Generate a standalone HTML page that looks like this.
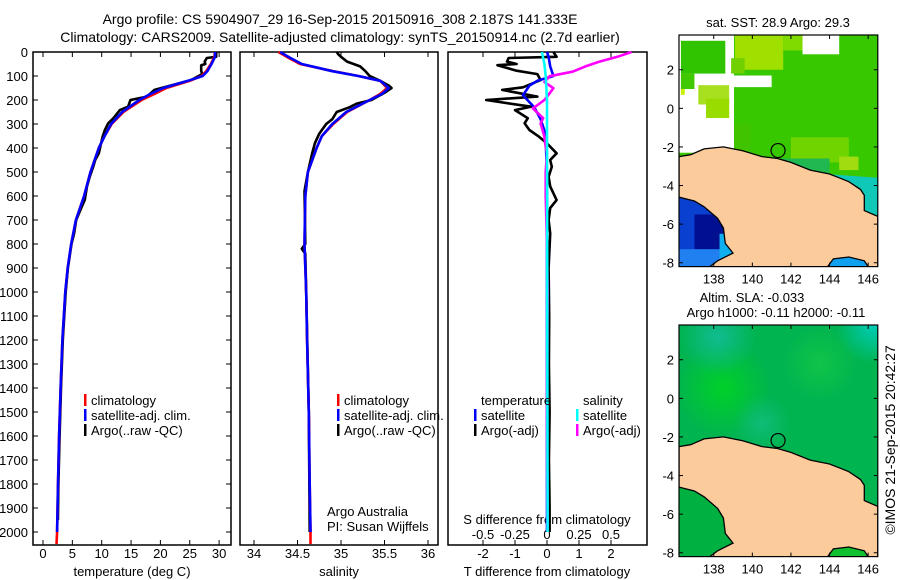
<!DOCTYPE html>
<html><head><meta charset="utf-8"><style>
body{margin:0;background:#fff;}
svg{display:block;font-family:"Liberation Sans",sans-serif;}
</style></head><body>
<svg id="fig" width="900" height="580" viewBox="0 0 900 580" xmlns="http://www.w3.org/2000/svg">
<rect width="900" height="580" fill="#fff"/>
<g font-size="14" text-anchor="middle" fill="#000">
<text x="340" y="24">Argo profile: CS 5904907_29 16-Sep-2015 20150916_308 2.187S 141.333E</text>
<text x="340" y="42">Climatology: CARS2009. Satellite-adjusted climatology: synTS_20150914.nc (2.7d earlier)</text>
</g>
<g id="panels"></g>
<g id="maps"></g>
<text x="0" y="0" font-size="14" text-anchor="middle" transform="translate(895,440) rotate(-90)">©IMOS 21-Sep-2015 20:42:27</text>
</svg>
<script>
// ---- data ----
const depthTicks=[0,100,200,300,400,500,600,700,800,900,1000,1100,1200,1300,1400,1500,1600,1700,1800,1900,2000];
const tempTicks=[0,5,10,15,20,25,30];
const salTicks=[34,34.5,35,35.5,36];
const salTickLabels=["34","34.5","35","35.5","36"];
const tdiffTicks=[-2,-1,0,1,2];
const sdiffTicks=[-0.5,-0.25,0,0.25,0.5];
const sdiffTickLabels=["-0.5","-0.25","0","0.25","0.5"];

const tempDepth=[0,20,50,80,100,120,150,175,200,250,300,350,400,500,600,700,800,900,1000,1200,1400,1600,1800,2000,2050];
const tempClim=[29.3,29.2,28.6,27.8,27.0,25.0,21.0,19.0,16.8,13.7,11.7,10.5,9.5,8.1,7.0,5.6,4.8,4.2,3.8,3.3,3.0,2.75,2.55,2.4,2.3];
const tempSatDepth=[0,20,50,80,100,120,150,175,200,250,300,350,400,500,600,700,800,900,1000,1200,1400,1600,1800,2000];
const tempSat=[29.3,29.3,28.7,28.0,27.2,24.7,20.5,18.3,16.4,13.5,11.6,10.5,9.5,8.1,7.0,5.6,4.8,4.2,3.8,3.3,3.0,2.75,2.55,2.4];
const tempArgoDepth=[0,20,25,40,50,55,78,92,117,147,158,186,200,228,242,276,297,325,353,381,422,450,478,520,560,617,650,700,756,800,900,1000,1200,1400,1600,1800,1950];
const tempArgo=[29.5,29.5,27.9,27.55,27.65,26.95,26.95,27.1,25.2,20.65,19.0,17.7,14.9,14.5,13.1,12.0,11.1,10.55,10.15,9.9,9.5,8.9,8.55,7.95,7.5,7.1,6.5,5.65,5.3,4.85,4.25,3.87,3.37,3.07,2.82,2.62,2.53];

const salDepth=[0,25,50,80,100,120,150,175,200,250,300,350,400,500,600,800,1000,1200,1500,1800,2000,2050];
const salClim=[34.28,34.40,34.53,34.91,35.20,35.45,35.53,35.45,35.33,35.07,34.91,34.78,34.72,34.62,34.59,34.58,34.60,34.61,34.63,34.64,34.65,34.65];
const salSatDepth=[0,25,50,80,100,120,150,175,200,250,300,350,400,500,600,800,1000,1200,1500,1800,2000];
const salSat=[34.30,34.42,34.55,34.90,35.20,35.45,35.55,35.47,35.33,35.06,34.90,34.78,34.72,34.62,34.59,34.58,34.60,34.61,34.63,34.64,34.65];
const salArgoDepth=[0,10,20,40,60,80,100,120,140,150,170,200,215,230,250,280,300,340,380,420,500,580,800,820,840,1000,1500,2000];
const salArgo=[34.95,34.97,35.00,35.07,35.22,35.28,35.33,35.45,35.55,35.58,35.50,35.35,35.18,35.10,34.95,34.90,34.83,34.75,34.70,34.67,34.62,34.58,34.59,34.55,34.59,34.60,34.63,34.64];

const tdArgoDepth=[0,20,25,40,50,55,78,92,117,147,158,186,200,228,242,276,297,325,353,381,422,450,478,520,560,617,650,700,756,900,1100,1300,1500,1700,1900,2000];
const tdArgo=[0.2,0.3,-1.2,-1.25,-0.95,-1.55,-0.95,-0.3,-0.2,-0.75,-1.4,-0.3,-1.9,-0.5,-1.0,-0.6,-0.7,-0.55,-0.25,0,0.3,0.1,0.15,0.05,0.1,0.3,0.1,0.05,0.1,0.05,0.07,0.06,0.08,0.06,0.08,0.08];
const tdSatDepth=[0,20,60,100,120,140,180,230,280,340,500,1000,1500,2000];
const tdSat=[0,0.05,0.1,0.2,-0.3,-0.55,-0.75,-0.4,-0.2,-0.05,0,0,0,0];
const sdSatDepth=[0,50,100,200,300,2000];
const sdSat=[-0.04,-0.02,-0.01,0,0,0.005];
const sdArgoDepth=[0,20,40,60,82,101,125,151,172,200,235,276,297,353,395,422,500,600,800,1000,1500,2000];
const sdArgo=[0.66,0.55,0.41,0.3,0.2,0.02,-0.02,0.05,0.02,-0.02,-0.11,-0.03,-0.05,-0.02,-0.01,0,-0.01,-0.01,0,0.005,0,0.005];

// ---- scales ----
const TOP=52, BOT=545;
const yD=d=>TOP+d*0.24;
const xT=v=>43+v*5.87;
const xS=v=>254+(v-34)*87;
const xTD=v=>547+v*32;
const xSD=v=>547+v*128;
const NS="http://www.w3.org/2000/svg";
function mk(tag,attrs,parent){const e=document.createElementNS(NS,tag);for(const k in attrs)e.setAttribute(k,attrs[k]);parent.appendChild(e);return e;}
const P=document.getElementById('panels');

function line(xs,ds,xf,color,name,w){
  const pts=xs.map((v,i)=>xf(v).toFixed(1)+','+yD(ds[i]).toFixed(1)).join(' ');
  const e=mk('polyline',{points:pts,fill:'none',stroke:color,'stroke-width':w||2.6,'stroke-linejoin':'round'},P);
  
  
}
function text(x,y,s,anchor,name,size){
  const t=mk('text',{x:x,y:y,'font-size':size||13,'text-anchor':anchor||'start'},P);t.textContent=s;
  
  
  return t;
}
const panels=[[33,231],[240,438],[448,647]];
panels.forEach((p,i)=>{
  const r=mk('rect',{x:p[0],y:TOP,width:p[1]-p[0],height:BOT-TOP,fill:'none',stroke:'#000','stroke-width':1.5},P);
  
  
});
depthTicks.forEach(d=>{
  const y=yD(d);
  mk('line',{x1:33,x2:38,y1:y,y2:y,stroke:'#000'},P);
  mk('line',{x1:226,x2:231,y1:y,y2:y,stroke:'#000'},P);
  text(28,y+5,String(d),'end','depth-tick-label',13);
});
function xticks(vals,labels,xf,name){vals.forEach((v,i)=>{const x=xf(v);
  mk('line',{x1:x,x2:x,y1:BOT,y2:BOT-5,stroke:'#000'},P);
  mk('line',{x1:x,x2:x,y1:TOP,y2:TOP+5,stroke:'#000'},P);
  text(x,558,labels[i],'middle',name,13);});}
xticks(tempTicks,tempTicks.map(String),xT,'temp-tick-label');
xticks(salTicks,salTickLabels,xS,'sal-tick-label');
xticks(tdiffTicks,tdiffTicks.map(String),xTD,'tdiff-tick-label');
sdiffTicks.forEach((v,i)=>text(xSD(v),539,sdiffTickLabels[i],'middle','sdiff-tick-label',13));
text(132,576,'temperature (deg C)','middle','x-axis-title-temperature',13);
text(339,576,'salinity','middle','x-axis-title-salinity',13);
text(547,576,'T difference from climatology','middle','x-axis-title-tdiff',13);
text(547,524,'S difference from climatology','middle','x-axis-title-sdiff',13);
text(327,516,'Argo Australia','start','credit-argo-australia',13);
text(327,531,'PI: Susan Wijffels','start','credit-pi',13);

line(tempArgo,tempArgoDepth,xT,'#000','temp-argo-line');
line(tempClim,tempDepth,xT,'#f00','temp-clim-line');
line(tempSat,tempSatDepth,xT,'#00f','temp-sat-line');
line(salArgo,salArgoDepth,xS,'#000','sal-argo-line');
line(salClim,salDepth,xS,'#f00','sal-clim-line');
line(salSat,salSatDepth,xS,'#00f','sal-sat-line');
line(tdArgo,tdArgoDepth,xTD,'#000','tdiff-argo-line');
line(tdSat,tdSatDepth,xTD,'#00f','tdiff-sat-line');
line(sdArgo,sdArgoDepth,xSD,'#f0f','sdiff-argo-line');
line(sdSat,sdSatDepth,xSD,'#0ff','sdiff-sat-line');

function leg(x,y,color,label,name){
  const m=mk('rect',{x:x,y:y-11,width:2.5,height:12,fill:color},P);
  
  
  text(x+7,y,label,'start',name,13);
}
[[84],[337]].forEach((p,i)=>{
  leg(p[0],405,'#f00','climatology','legend-climatology-'+(i+1));
  leg(p[0],420,'#00f','satellite-adj. clim.','legend-satellite-'+(i+1));
  leg(p[0],435,'#000','Argo(..raw -QC)','legend-argo-'+(i+1));
});
text(481,405,'temperature','start','legend-temperature-header',13);
leg(474,420,'#00f','satellite','legend-t-satellite');
leg(474,435,'#000','Argo(-adj)','legend-t-argo');
text(583,405,'salinity','start','legend-salinity-header',13);
leg(576,420,'#0ff','satellite','legend-s-satellite');
leg(576,435,'#f0f','Argo(-adj)','legend-s-argo');
</script>
<script>
// ---- maps ----
const M=document.getElementById('maps');
const lonTicks=[138,140,142,144,146];
const latTicks=[2,0,-2,-4,-6,-8];
const LON0=136.2,LON1=146.5,LAT0=3.8,LAT1=-8.2,K=19.3;
const landN=[[136.2,-2.5],[136.8,-2.4],[137.5,-2.1],[138.5,-2.0],[139.5,-2.2],[140.5,-2.5],[141.3,-2.6],[142,-2.8],[143,-3.2],[144,-3.4],[144.5,-3.6],[145,-3.8],[145.6,-4.2],[145.8,-4.5],[145.8,-5.3],[146.5,-5.6],[146.5,-8.2],[146,-8.2],[145.8,-7.9],[145,-7.7],[144.2,-7.8],[143.9,-8.2],[137.8,-8.2],[138.2,-7.9],[139,-7.5],[138.6,-7.0],[138.5,-6.2],[138.2,-5.7],[137.5,-5.1],[137,-4.8],[136.2,-4.6]];
function mkm(tag,attrs,parent){const e=document.createElementNS("http://www.w3.org/2000/svg",tag);for(const k in attrs)e.setAttribute(k,attrs[k]);parent.appendChild(e);return e;}
function drawMap(top,kind){
  const px=l=>679+(l-LON0)*K, py=l=>top+(LAT0-l)*K;
  const outer=mkm('g',{},M);
  
  
  const defs=mkm('defs',{},outer);
  const cid='clip'+kind;
  const cp=mkm('clipPath',{id:cid},defs);
  mkm('rect',{x:679,y:top,width:px(LON1)-679,height:py(LAT1)-top},cp);
  const g=mkm('g',{'clip-path':'url(#'+cid+')'},outer);
  const R=(l0,la0,l1,la1,c)=>mkm('rect',{x:px(l0),y:py(la0),width:px(l1)-px(l0),height:py(la1)-py(la0),fill:c},g);
  const poly=(pts,c,s)=>mkm('polygon',{points:pts.map(p=>px(p[0]).toFixed(1)+','+py(p[1]).toFixed(1)).join(' '),fill:c,stroke:s||'none','stroke-width':1.3},g);
  if(kind==='sst'){
    R(LON0,LAT0,LON1,LAT1,'#38c800');
    R(139.1,3.8,141.6,2.0,'#a0e000');
    R(141.6,3.8,142.6,3.0,'#80dc00');
    R(142,-1.5,145,-2.8,'#70d400');
    R(144.5,-2.5,145.5,-3.2,'#a0dc10');
    R(141.5,-2.6,144,-3.6,'#20b850');
    poly([[143.8,-3.4],[146.5,-3.6],[146.5,-5.6],[145.8,-5.3],[145.6,-4.2],[144,-3.4]],'#10c8b8');
    R(LON0,LAT0,139.05,-2.3,'#fff');
    R(139.05,1.7,141.0,1.1,'#fff');
    R(142.6,3.8,144.5,2.8,'#fff');
    R(136.3,3.5,138.6,1.8,'#30c400');
    R(136.3,1.8,137.0,1.0,'#40c800');
    R(136.3,1.0,136.5,0.7,'#c8f000');
    R(137.2,1.2,138.8,0.2,'#a8e020');
    R(137.6,0.5,138.8,-0.5,'#98dc00');
    R(138.9,2.6,139.6,1.8,'#70d000');
    R(139.05,-0.8,139.9,-2.2,'#40c400');
    R(LON0,-4.5,139,LAT1,'#0a40d0');
    R(137,-5.5,138.5,-7.3,'#001090');
    R(LON0,-7.3,138.8,LAT1,'#2080f0');
    R(138.3,-6.5,139,-7.8,'#10b0f0');
    R(144,-7.4,146.2,LAT1,'#10a0f0');
  } else {
    R(LON0,LAT0,LON1,LAT1,'#00b450');
    const gid='grad'+top;
    [['a',138.5,0.5,'#00d028',2.5],['b',143.5,1.8,'#10c448',2],['c',140.5,-1.3,'#10bc78',1.5],['d',146.3,3.8,'#00ccb8',2],['e',138.2,3.2,'#10bc90',2]].forEach(b=>{
      const rg=mkm('radialGradient',{id:gid+b[0]},defs);
      mkm('stop',{offset:'0','stop-color':b[3],'stop-opacity':1},rg);
      mkm('stop',{offset:'1','stop-color':b[3],'stop-opacity':0},rg);
      mkm('circle',{cx:px(b[1]),cy:py(b[2]),r:b[4]*K,fill:'url(#'+gid+b[0]+')'},g);
    });
    R(LON0,-4.6,139,LAT1,'#00b040');
    R(144,-7.6,146,LAT1,'#10c030');
  }
  const land=poly(landN,'#fccb9b','#000');
  
  
  const c=mkm('circle',{cx:px(141.333),cy:py(-2.187),r:7,fill:'none',stroke:'#000','stroke-width':1.2},outer);
  
  
  mkm('rect',{x:679,y:top,width:px(LON1)-679,height:py(LAT1)-top,fill:'none',stroke:'#000','stroke-width':1.2},outer);
  lonTicks.forEach(l=>{const x=px(l);mkm('line',{x1:x,x2:x,y1:top,y2:top+4,stroke:'#000'},outer);
    mkm('line',{x1:x,x2:x,y1:py(LAT1),y2:py(LAT1)-4,stroke:'#000'},outer);
    const t=mkm('text',{x:x,y:py(LAT1)+17,'font-size':13,'text-anchor':'middle'},outer);t.textContent=String(l);
    
    });
  latTicks.forEach(l=>{const y=py(l);mkm('line',{x1:679,x2:683,y1:y,y2:y,stroke:'#000'},outer);
    mkm('line',{x1:px(LON1)-4,x2:px(LON1),y1:y,y2:y,stroke:'#000'},outer);
    const t=mkm('text',{x:674,y:y+5,'font-size':13,'text-anchor':'end'},outer);t.textContent=String(l);
    
    });
}
drawMap(35,'sst');
drawMap(325,'sla');
function mt(x,y,s,name){const t=mkm('text',{x:x,y:y,'font-size':13,'text-anchor':'middle'},M);t.textContent=s;
  
  }
mt(778,27,'sat. SST: 28.9 Argo: 29.3','sst-map-title');
mt(752,302,'Altim. SLA: -0.033','sla-map-title');
mt(776,317,'Argo h1000: -0.11 h2000: -0.11','sla-map-subtitle');
</script>
</body></html>
